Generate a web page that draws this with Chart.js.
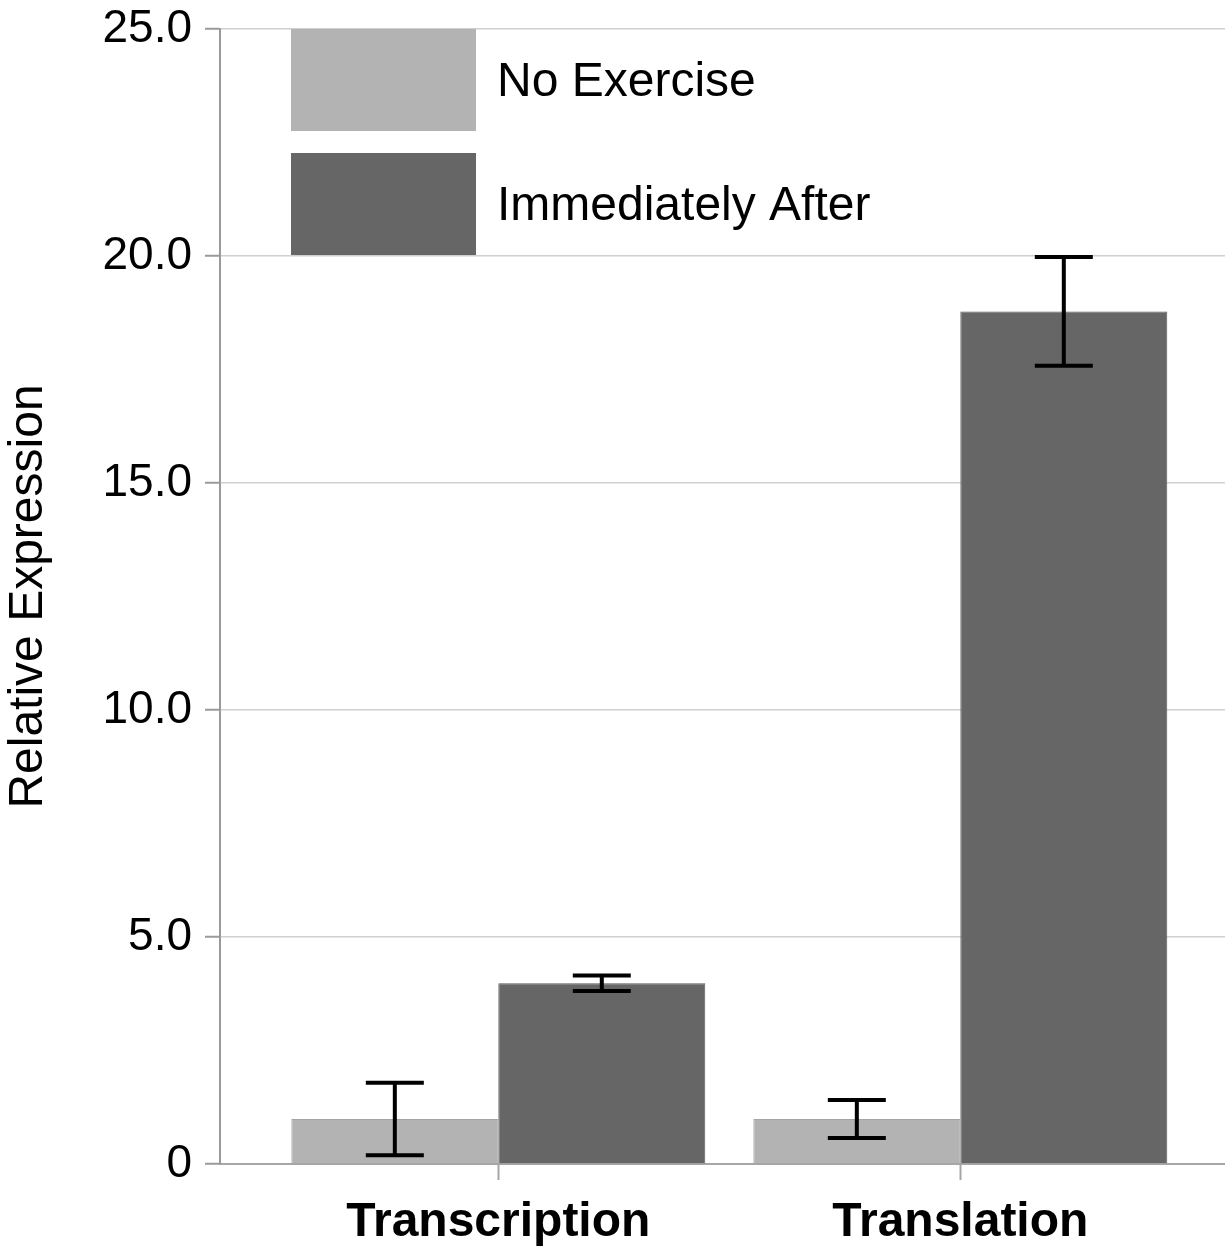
<!DOCTYPE html>
<html>
<head>
<meta charset="utf-8">
<script src="https://cdn.jsdelivr.net/npm/chart.js@4/dist/chart.umd.min.js"></script>
<style>
  html, body { margin: 0; padding: 0; background: #ffffff; }
  #wrap { width: 1225px; height: 1247px; position: relative; }
</style>
</head>
<body>
<div id="wrap"><canvas id="chart" width="1225" height="1247"></canvas></div>
<script>
// Categories and measured means with their error half-widths
const categories = ['Transcription', 'Translation'];
const seriesNames = ['No Exercise', 'Immediately After'];
const noExercise = [0.99, 0.99];
const noExerciseErr = [0.80, 0.42];
const immediatelyAfter = [3.98, 18.78];
const immediatelyAfterErr = [0.17, 1.20];
const yTickValues = [0, 5, 10, 15, 20, 25];

const FONT = "'Liberation Sans', Arial, sans-serif";
const LIGHT = '#b3b3b3';
const DARK = '#666666';

// Each category sits at integer position 1, 2, ... on a linear index axis
const toPoints = (vals) => vals.map((v, i) => ({ x: i + 1, y: v }));

// Black error bars with caps, drawn on top of the bars
const errorBars = {
  id: 'errorBars',
  afterDatasetsDraw(chart) {
    const ctx = chart.ctx;
    const y = chart.scales.y;
    ctx.save();
    ctx.strokeStyle = '#000000';
    ctx.lineWidth = 4;
    ctx.lineCap = 'butt';
    chart.data.datasets.forEach((ds, di) => {
      const meta = chart.getDatasetMeta(di);
      meta.data.forEach((bar, i) => {
        const v = ds.data[i].y;
        const e = ds.errors[i];
        const top = y.getPixelForValue(v + e);
        const bot = y.getPixelForValue(v - e);
        const cx = bar.x;
        const half = 29;
        ctx.beginPath();
        ctx.moveTo(cx, top); ctx.lineTo(cx, bot);
        ctx.moveTo(cx - half, top); ctx.lineTo(cx + half, top);
        ctx.moveTo(cx - half, bot); ctx.lineTo(cx + half, bot);
        ctx.stroke();
      });
    });
    ctx.restore();
  }
};

// Legend with large swatches placed inside the plot area
const insideLegend = {
  id: 'insideLegend',
  afterDraw(chart) {
    const ctx = chart.ctx;
    const area = chart.chartArea;
    const x0 = area.left + 71;
    const w = 185, h = 102, gap = 22;
    ctx.save();
    chart.data.datasets.forEach((ds, i) => {
      const top = area.top + i * (h + gap);
      ctx.fillStyle = ds.backgroundColor;
      ctx.fillRect(x0, top, w, h);
      ctx.fillStyle = '#000000';
      ctx.font = '48px ' + FONT;
      ctx.textAlign = 'left';
      ctx.textBaseline = 'middle';
      ctx.fillText(ds.label, x0 + w + 21, top + h / 2 + 3);
    });
    ctx.restore();
  }
};

new Chart(document.getElementById('chart'), {
  type: 'bar',
  data: {
    datasets: [
      {
        label: seriesNames[0],
        data: toPoints(noExercise),
        errors: noExerciseErr,
        backgroundColor: LIGHT,
        borderColor: '#a4a4a4',
        borderWidth: 1,
        categoryPercentage: 0.896,
        barPercentage: 1.0
      },
      {
        label: seriesNames[1],
        data: toPoints(immediatelyAfter),
        errors: immediatelyAfterErr,
        backgroundColor: DARK,
        borderColor: '#5a5a5a',
        borderWidth: 1,
        categoryPercentage: 0.896,
        barPercentage: 1.0
      }
    ]
  },
  options: {
    responsive: false,
    animation: false,
    events: [],
    layout: { padding: { top: 29, right: 0, bottom: 0, left: 0 } },
    plugins: {
      legend: { display: false },
      tooltip: { enabled: false }
    },
    scales: {
      x: {
        type: 'linear',
        offset: false,
        min: 0.3976,
        max: 2.5729,
        afterBuildTicks(scale) {
          scale.ticks = categories.map((c, i) => ({ value: i + 1 }));
        },
        afterFit(scale) {
          scale.height = 83;
          scale.paddingLeft = 0;
          scale.paddingRight = 0;
        },
        grid: {
          offset: false,
          drawOnChartArea: false,
          drawTicks: true,
          tickLength: 16,
          tickColor: '#a6a6a6',
          tickWidth: 2
        },
        border: { display: true, color: '#a6a6a6', width: 2 },
        ticks: {
          padding: 14,
          color: '#000000',
          font: { family: FONT, size: 48, weight: 'bold' },
          maxRotation: 0,
          autoSkip: false,
          callback: (v) => categories[Math.round(v) - 1] || ''
        }
      },
      y: {
        min: 0,
        max: 25,
        afterBuildTicks(scale) {
          scale.ticks = yTickValues.map(v => ({ value: v }));
        },
        afterFit(scale) {
          scale.width = 220;
          scale.paddingTop = 0;
          scale.paddingBottom = 0;
        },
        grid: {
          color: '#d0d0d0',
          lineWidth: 1.5,
          drawTicks: true,
          tickLength: 15,
          tickColor: '#9a9a9a',
          tickWidth: 2
        },
        border: { display: true, color: '#9a9a9a', width: 2 },
        ticks: {
          padding: 13,
          color: '#000000',
          font: { family: FONT, size: 46 },
          callback: (v) => (v === 0 ? '0' : Number(v).toFixed(1))
        },
        title: {
          display: true,
          text: 'Relative Expression',
          color: '#000000',
          font: { family: FONT, size: 48, lineHeight: 1.2 },
          padding: { top: 0, bottom: 0 }
        }
      }
    }
  },
  plugins: [errorBars, insideLegend]
});
</script>
</body>
</html>
